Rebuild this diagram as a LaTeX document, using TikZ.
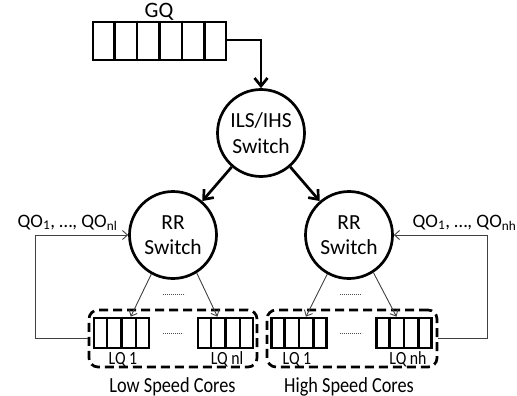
\documentclass[tikz,border=0pt]{standalone}
\usepackage{fontspec}
\setmainfont{Carlito}
\newfontfamily\narrowfont{Carlito}[FakeStretch=0.85]
\usetikzlibrary{calc,arrows.meta}

\tikzset{
  heavy/.style={line width=2.7pt},
  light/.style={line width=0.9pt, draw=black!75},
  switchnode/.style={circle, heavy, draw, minimum size=87pt, inner sep=0pt,
    align=center, font=\fontsize{21.5}{25.5}\selectfont},
  queuebox/.style={rectangle, heavy, draw, inner sep=0pt},
  groupbox/.style={rectangle, heavy, draw, rounded corners=9pt,
    dash pattern=on 9pt off 5pt, inner sep=0pt},
  bigarrow/.style={heavy, -{Straight Barb[length=8pt,width=13pt,line width=2.7pt]}},
  thinarrow/.style={light, -{Straight Barb[length=5pt,width=9pt,line width=0.9pt]}},
  fillerdots/.style={draw=black!70, line width=0.7pt, dash pattern=on 0.7pt off 1.3pt},
  lqlbl/.style={inner sep=0pt, font=\narrowfont\fontsize{18.6}{20}\selectfont},
  qolbl/.style={inner sep=0pt, font=\fontsize{19}{22}\selectfont},
  grouplbl/.style={inner sep=0pt, font=\narrowfont\fontsize{21.5}{24}\selectfont},
}

\begin{document}
\begin{tikzpicture}[x=1pt, y=-1pt]
\useasboundingbox (0,0) rectangle (517,396);

% global queue
\node[queuebox, minimum width=133pt, minimum height=38pt] (gq) at (159.5,41) {};
\foreach \i in {1,...,5}
  \draw[heavy] ($(gq.north west)!\i/6!(gq.north east)$) -- ($(gq.south west)!\i/6!(gq.south east)$);
\node[inner sep=0pt, font=\fontsize{22}{24}\selectfont, anchor=base] (gqlabel) at (159,17.5) {GQ};

% switches
\node[switchnode] (top) at (261,133) {ILS/IHS\\Switch};
\node[switchnode] (rrl) at (173,235) {RR\\Switch};
\node[switchnode] (rrh) at (349,235) {RR\\Switch};

\draw[bigarrow] (gq.east |- 0,40) coordinate (gqout) -| (top.north);
\draw[bigarrow] (top) -- (rrl);
\draw[bigarrow] (top) -- (rrh);

% core groups
\node[groupbox, minimum width=168pt, minimum height=57pt] (lowbox) at (173,338.5) {};
\node[groupbox, minimum width=170pt, minimum height=57pt] (highbox) at (352,338.5) {};

% local queues
\foreach \n/\x in {ql1/121.5, qln/225.5, qh1/299, qhn/404} {
  \node[queuebox, minimum width=55pt, minimum height=30pt] (\n) at (\x,333) {};
  \foreach \i in {1,2,3}
    \draw[heavy] ($(\n.north west)!\i/4!(\n.north east)$) -- ($(\n.south west)!\i/4!(\n.south east)$);
}

\node[lqlbl, anchor=base] (ql1lbl) at (123,364) {LQ 1};
\node[lqlbl, anchor=base] (qlnlbl) at (227,364) {LQ nl};
\node[lqlbl, anchor=base] (qh1lbl) at (297,364) {LQ 1};
\node[lqlbl, anchor=base] (qhnlbl) at (408,364) {LQ nh};

\node[grouplbl, anchor=base] (lowlbl) at (172.5,392) {Low Speed Cores};
\node[grouplbl, anchor=base] (highlbl) at (349,392) {High Speed Cores};

% dispatch from the RR switches
\draw[thinarrow] (rrl.-119) -- ($(ql1.north west)!0.66!(ql1.north east)$);
\draw[thinarrow] (rrl.-58) -- ($(qln.north west)!0.36!(qln.north east)$);
\draw[thinarrow] (rrh.-119) -- ($(qh1.north west)!0.62!(qh1.north east)$);
\draw[thinarrow] (rrh.-57) -- ($(qhn.north west)!0.37!(qhn.north east)$);

% omitted queues
\draw[fillerdots] (163,294) -- (185,294);
\draw[fillerdots] (163,333) -- (183,333);
\draw[fillerdots] (340,294) -- (362,294);
\draw[fillerdots] (340,333) -- (362,333);

% feedback of queue occupancy
\draw[thinarrow] (lowbox.west) -- ++(-52,0) coordinate (fbl) |- (rrl.west);
\draw[thinarrow] (highbox.east) -- ++(49,0) coordinate (fbh) |- (rrh.east);

\node[qolbl, anchor=base] (qol) at (67.5,227) {QO\textsubscript{1}, …, QO\textsubscript{nl}};
\node[qolbl, anchor=base] (qoh) at (464.5,227) {QO\textsubscript{1}, …, QO\textsubscript{nh}};
\end{tikzpicture}
\end{document}
